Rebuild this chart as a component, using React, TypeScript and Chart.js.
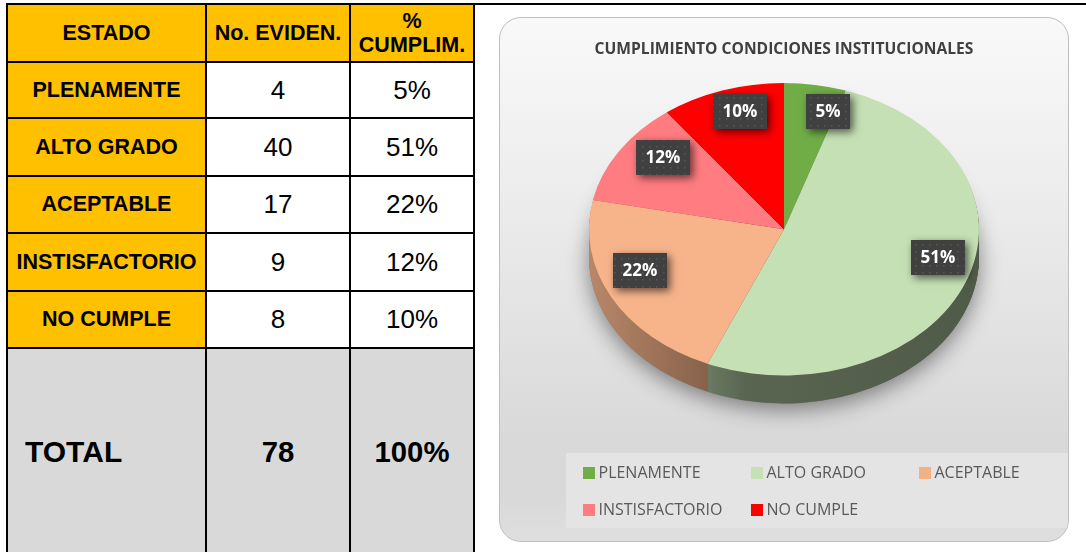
import React, { useEffect, useRef } from "react";
import { Chart, registerables } from "chart.js";

Chart.register(...registerables);

// ---------- data ----------
const categories = ["PLENAMENTE", "ALTO GRADO", "ACEPTABLE", "INSTISFACTORIO", "NO CUMPLE"];
const evidencias = [4, 40, 17, 9, 8];
const cumplimiento = ["5%", "51%", "22%", "12%", "10%"];
const totalEvidencias = "78";
const totalCumplimiento = "100%";
const tableHeaders = ["ESTADO", "No. EVIDEN.", "% CUMPLIM."];
const totalLabel = "TOTAL";
const chartTitle = "CUMPLIMIENTO CONDICIONES INSTITUCIONALES";
const sliceColors = ["#70AD47", "#C5E0B4", "#F7B48A", "#FF7C80", "#FF0000"];
const legendColors = ["#70AD47", "#C5E0B4", "#F4B183", "#FF7C80", "#FF0000"];

// ---------- styling constants ----------
const TILT = 0.75;
const DEPTH = 28;
const LABEL_SHIFT_DEG = [6.3, -7.2, 6.6, 5.8, 2.8];
const LABEL_RADIUS = [0.835, 0.81, 0.79, 0.79, 0.833];
const SIDE_STOPS: [number, number][] = [
  [0, 0.75],
  [0.3, 0.55],
  [0.4, 0.45],
  [1, 0.4],
];
const FONT = "'Open Sans', sans-serif";
const TABLE_FONT = "'Liberation Sans', Arial, sans-serif";

function shade(hex: string, f: number) {
  const n = parseInt(hex.slice(1), 16);
  const r = (n >> 16) & 255,
    g = (n >> 8) & 255,
    b = n & 255;
  return `rgb(${Math.round(r * f)},${Math.round(g * f)},${Math.round(b * f)})`;
}

function geom(chart: any) {
  const arcs = chart.getDatasetMeta(0).data as any[];
  const a0 = arcs[0];
  const cx = a0.x,
    cy = a0.y,
    r = a0.outerRadius;
  return { arcs, cx, cy, r, top: cy - r };
}

let dotPattern: CanvasPattern | null = null;
function getPattern(ctx: CanvasRenderingContext2D) {
  if (dotPattern) return dotPattern;
  const c = document.createElement("canvas");
  c.width = 7;
  c.height = 7;
  const p = c.getContext("2d")!;
  p.fillStyle = "#404040";
  p.fillRect(0, 0, 7, 7);
  p.fillStyle = "#585858";
  p.fillRect(3, 3, 1.5, 1.5);
  dotPattern = ctx.createPattern(c, "repeat");
  return dotPattern;
}

const tiltPlugin = {
  id: "tilt3d",
  beforeDatasetsDraw(chart: any) {
    const ctx: CanvasRenderingContext2D = chart.ctx;
    const { arcs, cx, cy, r, top } = geom(chart);
    const apply = (dy: number) => {
      ctx.translate(0, top + dy);
      ctx.scale(1, TILT);
      ctx.translate(0, -top);
    };
    // soft shadow under the pie
    ctx.save();
    apply(DEPTH);
    ctx.shadowColor = "rgba(0,0,0,0.45)";
    ctx.shadowBlur = 22;
    ctx.shadowOffsetY = 6;
    ctx.fillStyle = "#777";
    ctx.beginPath();
    ctx.arc(cx, cy, r, 0, Math.PI * 2);
    ctx.fill();
    ctx.restore();
    // side gradients
    const grads = arcs.map((_a, i) => {
      const g = ctx.createLinearGradient(cx - r, 0, cx + r, 0);
      SIDE_STOPS.forEach(([t, f]) => g.addColorStop(t, shade(sliceColors[i], f)));
      return g;
    });
    for (let d = DEPTH; d >= 1; d--) {
      ctx.save();
      apply(d);
      arcs.forEach((arc, i) => {
        ctx.fillStyle = grads[i];
        ctx.beginPath();
        ctx.moveTo(cx, cy);
        ctx.arc(cx, cy, r, arc.startAngle, arc.endAngle);
        ctx.closePath();
        ctx.fill();
      });
      ctx.restore();
    }
    ctx.save();
    apply(0);
  },
  afterDatasetsDraw(chart: any) {
    const ctx: CanvasRenderingContext2D = chart.ctx;
    ctx.restore();
    const { arcs, cx, cy, r, top } = geom(chart);
    ctx.save();
    ctx.font = `bold 17px ${FONT}`;
    arcs.forEach((arc, i) => {
      const mid = (arc.startAngle + arc.endAngle) / 2 + (LABEL_SHIFT_DEG[i] * Math.PI) / 180;
      const rr = r * LABEL_RADIUS[i];
      const x = cx + Math.cos(mid) * rr;
      const y = top + (cy + Math.sin(mid) * rr - top) * TILT;
      const text = cumplimiento[i];
      const w = Math.round(ctx.measureText(text).width + 19);
      const h = 35;
      const bx = Math.round(x - w / 2),
        by = Math.round(y - h / 2);
      ctx.save();
      ctx.shadowColor = "rgba(0,0,0,0.6)";
      ctx.shadowBlur = 8;
      ctx.shadowOffsetX = 3;
      ctx.shadowOffsetY = 3;
      ctx.fillStyle = "#404040";
      ctx.fillRect(bx, by, w, h);
      ctx.restore();
      ctx.fillStyle = getPattern(ctx) || "#404040";
      ctx.fillRect(bx, by, w, h);
      ctx.fillStyle = "#ffffff";
      ctx.textAlign = "center";
      ctx.textBaseline = "middle";
      ctx.fillText(text, bx + w / 2, by + h / 2 + 1);
    });
    ctx.restore();
  },
};

// ---------- table layout ----------
const COLS = [7, 206, 350, 474];
const ROWS = [4, 62, 118, 176, 233, 291, 348, 556];
const GOLD = "#FFC000";
const GRAY = "#D9D9D9";

type Cell = { text: string; bg: string; font: string; align?: "left" | "center"; pad?: number };

function buildCells(): Cell[][] {
  const rows: Cell[][] = [];
  rows.push(tableHeaders.map((t) => ({ text: t, bg: GOLD, font: `bold 21.5px/24px ${TABLE_FONT}` })));
  categories.forEach((c, i) => {
    rows.push([
      { text: c, bg: GOLD, font: `bold 21.5px ${TABLE_FONT}` },
      { text: String(evidencias[i]), bg: "#FFFFFF", font: `26px ${TABLE_FONT}` },
      { text: cumplimiento[i], bg: "#FFFFFF", font: `26px ${TABLE_FONT}` },
    ]);
  });
  rows.push([
    { text: totalLabel, bg: GRAY, font: `bold 30px ${TABLE_FONT}`, align: "left", pad: 18 },
    { text: totalEvidencias, bg: GRAY, font: `bold 29.3px ${TABLE_FONT}` },
    { text: totalCumplimiento, bg: GRAY, font: `bold 29.3px ${TABLE_FONT}` },
  ]);
  return rows;
}

function DataTable() {
  const rows = buildCells();
  const items: React.ReactNode[] = [];
  rows.forEach((row, ri) => {
    row.forEach((cell, ci) => {
      items.push(
        <div
          key={`c${ri}-${ci}`}
          style={{
            position: "absolute",
            left: COLS[ci],
            top: ROWS[ri],
            width: COLS[ci + 1] - COLS[ci],
            height: ROWS[ri + 1] - ROWS[ri],
            background: cell.bg,
            display: "flex",
            alignItems: "center",
            justifyContent: cell.align === "left" ? "flex-start" : "center",
            paddingLeft: cell.pad || 2,
            paddingRight: 2,
            boxSizing: "border-box",
            font: cell.font,
            color: "#000",
            textAlign: "center",
          }}
        >
          {cell.text}
        </div>
      );
    });
  });
  COLS.forEach((x, i) =>
    items.push(
      <div
        key={`v${i}`}
        style={{ position: "absolute", left: x - 1, top: ROWS[0] - 1, width: 2, height: 560, background: "#000" }}
      />
    )
  );
  ROWS.forEach((y, i) =>
    items.push(
      <div
        key={`h${i}`}
        style={{
          position: "absolute",
          left: COLS[0] - 1,
          top: y - 1,
          width: i === 0 ? 1086 : COLS[3] - COLS[0] + 2,
          height: 2,
          background: "#000",
        }}
      />
    )
  );
  return <>{items}</>;
}

// ---------- chart ----------
const BOX = { left: 499, top: 17, width: 570, height: 525 };

function PieChart() {
  const ref = useRef<HTMLCanvasElement | null>(null);
  useEffect(() => {
    if (!ref.current) return;
    const chart = new Chart(ref.current, {
      type: "pie",
      data: {
        labels: categories,
        datasets: [
          {
            data: evidencias,
            backgroundColor: sliceColors,
            borderWidth: 0,
            hoverOffset: 0,
            clip: false,
          } as any,
        ],
      },
      options: {
        animation: false,
        responsive: false,
        devicePixelRatio: 1,
        events: [],
        rotation: 0,
        layout: { padding: { left: 90, right: 90, top: 0, bottom: 69 } },
        plugins: {
          legend: { display: false },
          tooltip: { enabled: false },
          title: {
            display: true,
            text: chartTitle,
            color: "#404040",
            font: { family: FONT, size: 15.6, weight: "bold", lineHeight: 18 / 15.6 },
            padding: { top: 24, bottom: 24 },
          },
        },
      },
      plugins: [tiltPlugin],
    });
    return () => chart.destroy();
  }, []);

  const legendItems = categories.map((c, i) => {
    const col = i % 3;
    const row = Math.floor(i / 3);
    const sx = 582 + col * 168 - BOX.left;
    const sy = 466 + row * 37.3 - BOX.top;
    return (
      <React.Fragment key={c}>
        <div
          style={{ position: "absolute", left: sx, top: sy, width: 11.5, height: 11.5, background: legendColors[i] }}
        />
        <div
          style={{
            position: "absolute",
            left: sx + 15.5,
            top: sy - 6,
            font: `16px ${FONT}`,
            color: "#595959",
            whiteSpace: "nowrap",
          }}
        >
          {c}
        </div>
      </React.Fragment>
    );
  });

  return (
    <div
      style={{
        position: "absolute",
        left: BOX.left,
        top: BOX.top,
        width: BOX.width,
        height: BOX.height,
        boxSizing: "border-box",
        border: "1.5px solid #bfbfbf",
        borderRadius: 22,
        overflow: "hidden",
        background: "linear-gradient(to bottom, #f9f9f9 0%, #e8e8e8 45%, #d9d9d9 80%, #d9d9d9 92%, #dfdfdf 100%)",
      }}
    >
      <div
        style={{
          position: "absolute",
          left: 565 - BOX.left,
          top: 452 - BOX.top,
          width: 600,
          height: 75,
          background: "#e4e4e4",
        }}
      />
      <canvas
        ref={ref}
        width={BOX.width}
        height={BOX.height}
        style={{ position: "absolute", left: -1.5, top: -1.5, width: BOX.width, height: BOX.height }}
      />
      {legendItems}
    </div>
  );
}

export default function App() {
  return (
    <div
      style={{
        position: "fixed",
        left: 0,
        top: 0,
        width: 1086,
        height: 552,
        background: "#ffffff",
        overflow: "hidden",
      }}
    >
      <DataTable />
      <PieChart />
    </div>
  );
}
